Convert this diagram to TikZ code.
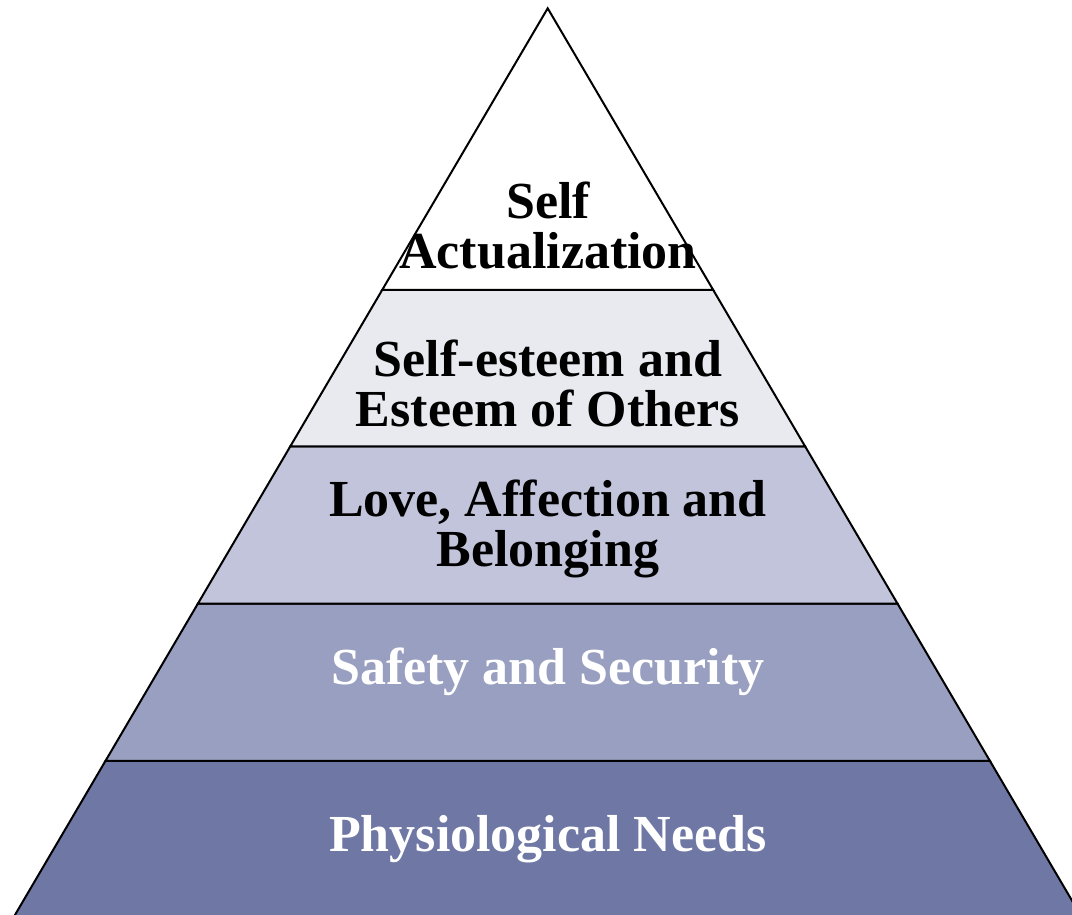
\documentclass[tikz,border=0pt]{standalone}
\usepackage{fontspec}
\setmainfont{Liberation Serif}
\usepackage{xcolor}
\usetikzlibrary{calc, positioning}

\definecolor{lvlone}{HTML}{FFFFFF}
\definecolor{lvltwo}{HTML}{E9EAF0}
\definecolor{lvlthree}{HTML}{C1C4DA}
\definecolor{lvlfour}{HTML}{999FC0}
\definecolor{lvlfive}{HTML}{6F77A5}

\tikzset{
  layer/.style={draw=black, line width=1pt, line join=miter},
  tiertext/.style={align=center, anchor=base, font=\fontsize{26}{25}\selectfont\bfseries, inner sep=0pt},
}

\begin{document}
\begin{tikzpicture}[x=0.5pt, y=-0.5pt, line width=1pt]
        \useasboundingbox (0,0) rectangle (1072,915);
        \clip (0,0) rectangle (1072,915);
        \coordinate (apex) at (547.7, 8.3);
        \coordinate (bl) at (13.75, 917);
        \coordinate (br) at (1081.65, 917);
        % layer corners
        \coordinate (l1) at ($(apex)!0.3100!(bl)$);
        \coordinate (r1) at ($(apex)!0.3100!(br)$);
        \coordinate (l2) at ($(apex)!0.4822!(bl)$);
        \coordinate (r2) at ($(apex)!0.4822!(br)$);
        \coordinate (l3) at ($(apex)!0.6550!(bl)$);
        \coordinate (r3) at ($(apex)!0.6550!(br)$);
        \coordinate (l4) at ($(apex)!0.8283!(bl)$);
        \coordinate (r4) at ($(apex)!0.8283!(br)$);
        \filldraw [layer, fill=lvlfive] (l4) -- (r4) -- (br) -- (bl) -- cycle;
        \filldraw [layer, fill=lvlfour] (l3) -- (r3) -- (r4) -- (l4) -- cycle;
        \filldraw [layer, fill=lvlthree] (l2) -- (r2) -- (r3) -- (l3) -- cycle;
        \filldraw [layer, fill=lvltwo] (l1) -- (r1) -- (r2) -- (l2) -- cycle;
        \filldraw [layer, fill=lvlone] (apex) -- (r1) -- (l1) -- cycle;
        % labels
        \node [tiertext] (selfact) at (548, 269) {Self\\Actualization};
        \node [tiertext] (esteem) at (548, 426.7) {Self-esteem and\\Esteem of Others};
        \node [tiertext] (love) at (548, 566.7) {Love, Affection and\\Belonging};
        \node [tiertext, text=white] (safety) at (548, 684) {Safety and Security};
        \node [tiertext, text=white] (physio) at (548, 851) {Physiological Needs};
    \end{tikzpicture}
\end{document}
